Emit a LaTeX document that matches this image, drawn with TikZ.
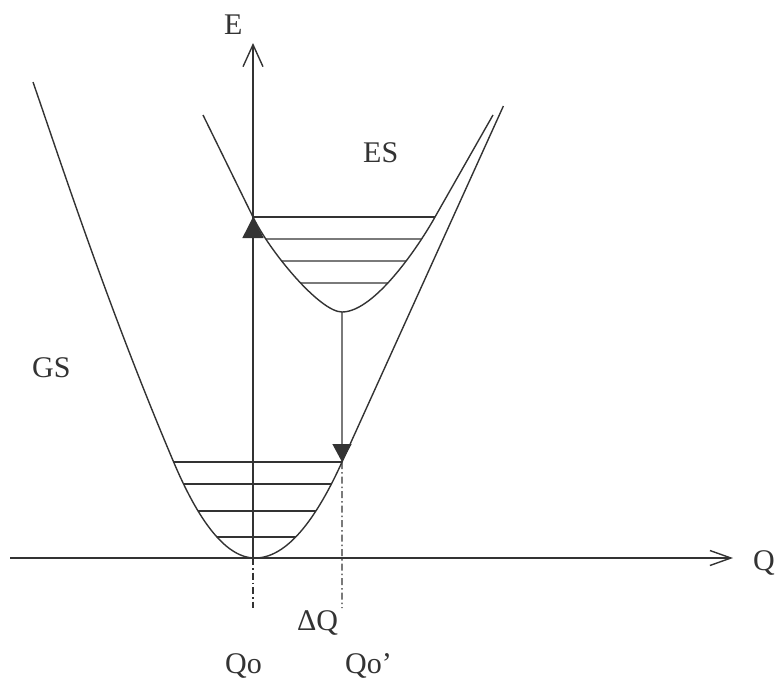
\documentclass[tikz,border=0pt]{standalone}
\usepackage{fontspec}
\setmainfont{Liberation Serif}
\usetikzlibrary{arrows.meta,intersections}
\definecolor{ink}{HTML}{333333}
\tikzset{
  curve/.style={draw=ink, line width=1.4pt},
  level/.style={draw=ink, line width=1.4pt},
  axis/.style={draw=ink, line width=1.4pt},
  transition/.style={draw=ink, line width=1.4pt},
  guide/.style={draw=ink, line width=1.3pt, dash pattern=on 7pt off 3pt on 1.5pt off 3pt},
  lbl/.style={text=ink, anchor=base west, inner sep=0pt, font=\fontsize{30}{32}\selectfont}
}
\begin{document}
\begin{tikzpicture}[x=1pt,y=-1pt]
\useasboundingbox (0,0) rectangle (776,680);
% ground state: left and right parabola constants (vertex at 255,558)
\def\aL{0.0145}
\def\aR{0.01268}
\coordinate (g0) at (33,82);
\coordinate (ga) at ({255-sqrt(96/\aL)},462);
\coordinate (gb) at ({255-sqrt(74/\aL)},484);
\coordinate (gc) at ({255-sqrt(47/\aL)},511);
\coordinate (gd) at ({255-sqrt(21/\aL)},537);
\coordinate (ga') at ({255+sqrt(96/\aR)},462);
\coordinate (gb') at ({255+sqrt(74/\aR)},484);
\coordinate (gc') at ({255+sqrt(47/\aR)},511);
\coordinate (gd') at ({255+sqrt(21/\aR)},537);
\coordinate (g4) at (503.4,106);
% excited state
\coordinate (e0) at (203,115);
\coordinate (ea) at (253,217);
\coordinate (ev) at (342,312);
\coordinate (ea') at (435,217);
\coordinate (e4) at (493,115);
% axes
\coordinate (origin) at (253,558);
\coordinate (qstart) at (10,558);
\coordinate (qend) at (733,558);
\coordinate (etop) at (253,43);
\coordinate (q0low) at (253,608);
\coordinate (q1low) at (342,608);

\draw[axis, -{Straight Barb[length=21pt,width=15pt]}] (qstart) -- (qend);
\draw[axis, -{Straight Barb[length=22pt,width=20pt]}] (origin) -- (etop);

% GS curve
\draw[curve] (g0) .. controls (63,169) and ({255-sqrt(96/\aL)-65},308.6) .. (ga)
  -- plot[domain={-sqrt(96/\aL)}:0, samples=40] ({255+\x},{558-\aL*\x*\x})
  -- plot[domain=0:{sqrt(96/\aR)}, samples=40] ({255+\x},{558-\aR*\x*\x})
  -- (g4);
% ES curve
\draw[curve, name path=es] (e0) -- (ea) .. controls (270,252) and (320,312) .. (ev)
  .. controls (375,312) and (420,244) .. (ea') -- (e4);

\path[name path=h2] (0,239) -- (776,239);
\path[name path=h3] (0,261) -- (776,261);
\path[name path=h4] (0,283) -- (776,283);
\path[name intersections={of=es and h2, sort by=h2, by={eb,eb'}}];
\path[name intersections={of=es and h3, sort by=h3, by={ec,ec'}}];
\path[name intersections={of=es and h4, sort by=h4, by={ed,ed'}}];

\draw[level] (ga) -- (ga');
\draw[level] (gb) -- (gb');
\draw[level] (gc) -- (gc');
\draw[level] (gd) -- (gd');
\draw[level] (ea) -- (ea');
\draw[level] (eb) -- (eb');
\draw[level] (ec) -- (ec');
\draw[level] (ed) -- (ed');

\draw[transition, -{Triangle[length=21pt,width=21pt]}] (origin) -- (ea);
\draw[transition, -{Triangle[length=18pt,width=19pt]}] (ev) -- (ga');

\draw[guide] (origin) -- (q0low);
\draw[guide] (ga') -- (q1low);

\node[lbl] (lE) at (224,34) {E};
\node[lbl] (lES) at (363,162) {ES};
\node[lbl] (lGS) at (32,377) {GS};
\node[lbl] (lQ) at (753,570) {Q};
\node[lbl] (ldQ) at (297,630) {ΔQ};
\node[lbl] (lQo) at (225,673) {Qo};
\node[lbl] (lQo2) at (345,673) {Qo'};
\end{tikzpicture}
\end{document}
